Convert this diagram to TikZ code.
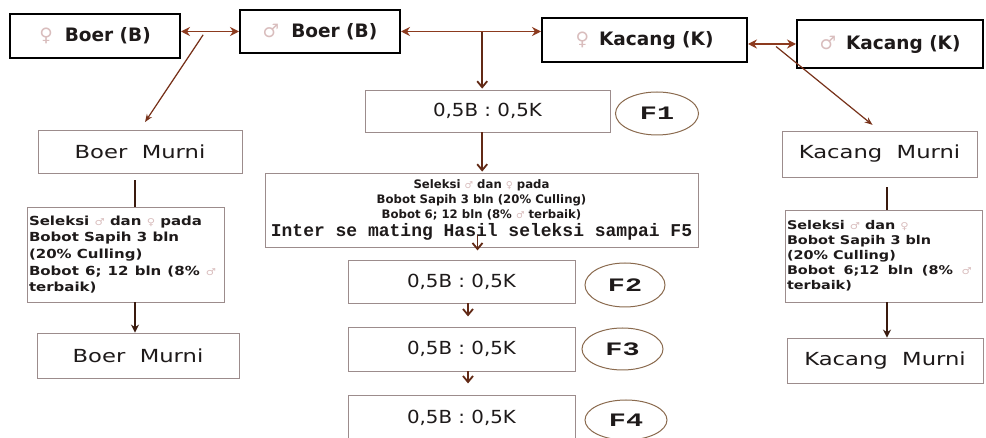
\documentclass[tikz,border=0pt]{standalone}
\usepackage{fontspec}
\usepackage{graphicx}
\usetikzlibrary{arrows.meta,shapes.geometric,calc}
\setmainfont{DejaVu Sans}
\newfontfamily\symf{DejaVu Sans}
\newfontfamily\murnif{DejaVu Sans}[FakeStretch=1.26]
\newfontfamily\ratiof{DejaVu Sans}[FakeStretch=1.1]
\newfontfamily\monof{Liberation Mono Bold}
\newfontfamily\genf{Liberation Mono Bold}[FakeStretch=1.5]

\definecolor{arrowred}{HTML}{8C3A1E}
\definecolor{darkline}{HTML}{3A1A0E}
\definecolor{boxline}{HTML}{9C8C8C}
\definecolor{ellline}{HTML}{8A6A4E}
\definecolor{symcol}{HTML}{D9BDBD}
\definecolor{txt}{HTML}{1E1A1A}

\newcommand{\fem}{{\symf\mdseries\color{symcol}♀}}
\newcommand{\mal}{{\symf\mdseries\color{symcol}♂}}
% small sex signs inside the selection notes
\newcommand{\sfem}{{\symf\mdseries\fontsize{9.5}{9.5}\selectfont\color{symcol}♀}}
\newcommand{\smal}{{\symf\mdseries\fontsize{9.5}{9.5}\selectfont\color{symcol}♂}}
\newcommand{\spread}[2]{\leavevmode\hbox to #1{#2}}
% selection notes: bold text, widened horizontally
\newcommand{\selnote}[5]{%
  \makebox[193pt][l]{\scalebox{#1}[1]{\parbox{#2}{\fontsize{#3}{#4}\selectfont\bfseries\raggedright #5}}}}

\begin{document}
\begin{tikzpicture}[x=1pt,y=-1pt,
  topbox/.style={draw=black, line width=2pt, inner sep=0pt, text=txt,
    font=\fontsize{18.5}{22}\selectfont\bfseries},
  softbox/.style={draw=boxline, line width=0.8pt, inner sep=0pt, text=txt},
  murni/.style={softbox, font=\murnif\fontsize{18}{22}\selectfont},
  ratio/.style={softbox, font=\ratiof\fontsize{18}{22}\selectfont},
  gen/.style={ellipse, draw=ellline, line width=1pt, inner sep=0pt, text=txt,
    font=\genf\fontsize{19}{22}\selectfont},
  link/.style={draw=arrowred, line width=1.5pt,
    {Stealth[length=9pt,width=9pt]}-{Stealth[length=9pt,width=9pt]}},
  diag/.style={draw=arrowred!85!black, line width=1.2pt, -{Stealth[length=8pt,width=6pt]}},
  down/.style={draw=arrowred!70!black, line width=1.8pt, -{Straight Barb[length=6pt,width=10pt]}},
  stem/.style={draw=darkline, line width=2.4pt},
  stemarr/.style={stem, -{Stealth[length=8pt,width=8pt]}}
]
\useasboundingbox (0,0) rectangle (986,438);
\fill[white] (0,0) rectangle (986,438);
\clip (0,0) rectangle (986,438);

% parent stock
\node[topbox, minimum width=170, minimum height=44] (fB) at (95,36) {\fem\hspace{12pt}Boer (B)};
\node[topbox, minimum width=160, minimum height=43] (mB) at (320,31.5) {\mal\hspace{12pt}Boer (B)};
\node[topbox, minimum width=205, minimum height=44] (fK) at (644.5,40) {\fem\hspace{10pt}Kacang (K)};
\node[topbox, minimum width=186, minimum height=48] (mK) at (890,44) {\mal\hspace{10pt}Kacang (K)};

% left branch: pure Boer
\node[murni, minimum width=204, minimum height=43] (bm1) at (140,151.5) {Boer\ \ Murni};
\node[softbox, minimum width=197, minimum height=95, inner xsep=2pt] (sL) at (125.5,254.5)
  {\selnote{1.2}{160pt}{12.5}{16.7}{Seleksi \smal\ dan \sfem\ pada\\Bobot Sapih 3 bln\\(20\% Culling)\\
   \spread{156pt}{Bobot\hfill 6;\hfill 12\hfill bln\hfill (8\%\hfill \smal}\\terbaik)}};
\node[murni, minimum width=202, minimum height=45] (bm2) at (138,355.5) {Boer\ \ Murni};

% right branch: pure Kacang
\node[murni, minimum width=195, minimum height=46] (km1) at (879.5,154) {Kacang\ \ Murni};
\node[softbox, minimum width=197, minimum height=92, inner xsep=2pt] (sR) at (883.5,256)
  {\selnote{1.2}{160pt}{12}{15}{Seleksi \smal\ dan \sfem\\Bobot Sapih 3 bln\\(20\% Culling)\\
   \spread{154pt}{Bobot\hfill 6;12\hfill bln\hfill (8\%\hfill \smal}\\terbaik)}};
\node[murni, minimum width=196, minimum height=45] (km2) at (885,360.5) {Kacang\ \ Murni};

% centre: crossbred generations
\node[ratio, minimum width=245, minimum height=42] (f1) at (487.5,111) {0,5B : 0,5K};
\node[gen, minimum width=83, minimum height=43] (g1) at (657,113.5) {F1};
\node[softbox, minimum width=433, minimum height=74, align=center,
  font=\bfseries\fontsize{11.7}{15}\selectfont] (sC) at (481.5,210)
  {Seleksi \smal\ dan \sfem\ pada\\Bobot Sapih 3 bln (20\% Culling)\\
   Bobot 6; 12 bln (8\% \smal\ terbaik)\\[3pt]
   {\monof\fontsize{18}{20}\selectfont Inter se mating Hasil seleksi sampai F5}};
\node[ratio, minimum width=227, minimum height=43] (f2) at (461.5,281.5) {0,5B : 0,5K};
\node[gen, minimum width=80, minimum height=44] (g2) at (625,285) {F2};
\node[ratio, minimum width=227, minimum height=44] (f3) at (461.5,349) {0,5B : 0,5K};
\node[gen, minimum width=81, minimum height=42] (g3) at (622.5,349) {F3};
\node[ratio, minimum width=227, minimum height=46] (f4) at (461.5,418) {0,5B : 0,5K};
\node[gen, minimum width=82, minimum height=40] (g4) at (626,420) {F4};

% mating links between parents
\draw[link] (fB.east |- mB.west) -- coordinate[pos=0.42] (jB) (mB.west);
\draw[link] (mB.east) -- coordinate[pos=0.58] (jM) (mB.east -| fK.west);
\draw[link] (fK.east |- mK.west) -- coordinate[pos=0.52] (jK) (mK.west);

% to the pure lines
\draw[diag, shorten <=4pt, shorten >=9pt] (jB) -- (bm1.north);
\draw[diag, shorten <=4pt, shorten >=9pt] (jK) -- (km1.north);

% crossbreeding chain
\draw[down, shorten <=1pt, shorten >=1pt] (jM) -- (jM |- f1.north);
\draw[down, shorten >=1pt] (f1.south -| jM) -- (sC.north -| jM);
\draw[down] ($(sC.south)+(-4,-12)$) -- ($(sC.south)+(-4,3)$);
\draw[down] ($(f2.south)+(6.5,0)$) -- ($(f2.south)+(6.5,13)$);
\draw[down] ($(f3.south)+(6.5,0)$) -- ($(f3.south)+(6.5,12)$);

% selection stems
\draw[stem] ($(bm1.south)+(-5,7)$) coordinate (tL) -- (tL |- sL.north);
\draw[stemarr] (sL.south -| tL) -- (bm2.north -| tL);
\draw[stem] ($(km1.south)+(7.5,10)$) coordinate (tR) -- (tR |- sR.north);
\draw[stemarr] (sR.south -| tR) -- (km2.north -| tR);
\end{tikzpicture}
\end{document}
